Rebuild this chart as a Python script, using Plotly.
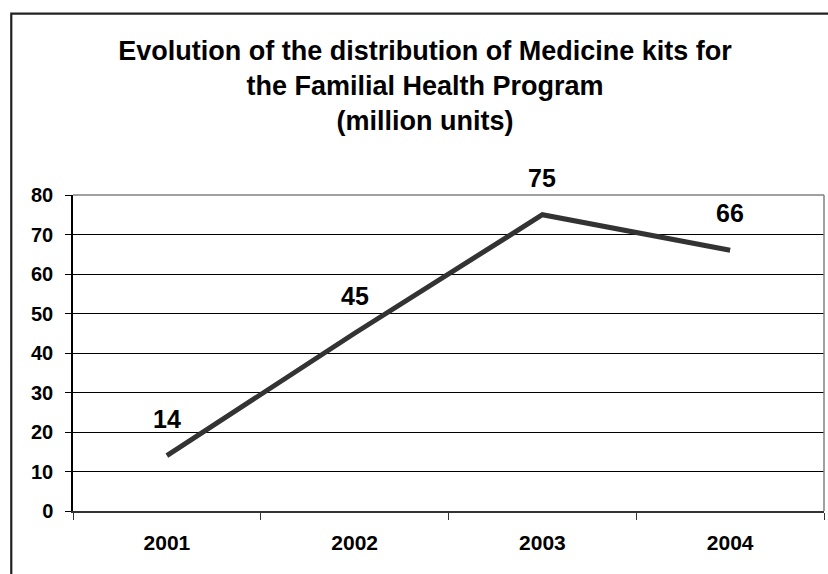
import plotly.graph_objects as go

# Medicine kits distributed per year (million units)
years = ["2001", "2002", "2003", "2004"]
kits = [14, 45, 75, 66]
y_ticks = [0, 10, 20, 30, 40, 50, 60, 70, 80]

FONT = "Arial, 'Liberation Sans', sans-serif"

fig = go.Figure()
fig.add_trace(go.Scatter(
    x=years, y=kits, mode="lines",
    line=dict(color="#333333", width=5),
    hoverinfo="skip", showlegend=False,
))

# value labels above each point (category index as x position)
for i, v in enumerate(kits):
    fig.add_annotation(
        x=i, y=v, text=str(v), showarrow=False, yshift=37,
        font=dict(family=FONT, size=25, color="#000000", weight="bold"),
    )

fig.update_layout(
    width=828, height=574,
    margin=dict(l=73, r=4, t=195, b=63),
    paper_bgcolor="white", plot_bgcolor="white",
    font=dict(family=FONT, color="#000000"),
    title=dict(
        text="<b>Evolution of the distribution of Medicine kits for<br>"
             "the Familial Health Program<br>(million units)</b>",
        x=425 / 828, xanchor="center", xref="container",
        y=1 - 60 / 574, yanchor="top", yref="container",
        font=dict(family=FONT, size=27, color="#000000"),
    ),
    xaxis=dict(
        type="category", tickson="boundaries",
        range=[-0.5, len(years) - 0.5], automargin=False,
        ticks="outside", ticklen=7, tickwidth=1, tickcolor="#333333",
        showline=True, linecolor="#333333", linewidth=1.5,
        showgrid=False, zeroline=False, tickangle=0,
        tickfont=dict(family=FONT, size=21, color="#000000", weight="bold"),
        ticklabelstandoff=12,
    ),
    yaxis=dict(
        range=[0, 80], tickvals=y_ticks, automargin=False,
        ticks="outside", ticklen=6, tickwidth=1, tickcolor="#000000",
        showline=True, linecolor="#000000", linewidth=1.5,
        showgrid=True, gridcolor="#000000", gridwidth=1,
        zeroline=False,
        tickfont=dict(family=FONT, size=20, color="#000000", weight="bold"),
        ticklabelstandoff=8,
    ),
    shapes=[
        # plot-area frame (top and right edges)
        dict(type="line", xref="paper", yref="paper", x0=0, x1=1, y0=1, y1=1,
             line=dict(color="#808080", width=1.5), layer="above"),
        dict(type="line", xref="paper", yref="paper", x0=1, x1=1, y0=0, y1=1,
             line=dict(color="#808080", width=1.5), layer="above"),
        # chart-area border
        dict(type="rect", xref="paper", yref="paper",
             x0=-0.0822, x1=1.2, y0=-0.5, y1=1.5737,
             line=dict(color="#222222", width=2.2), layer="above"),
    ],
)

fig.write_html("out.html")
